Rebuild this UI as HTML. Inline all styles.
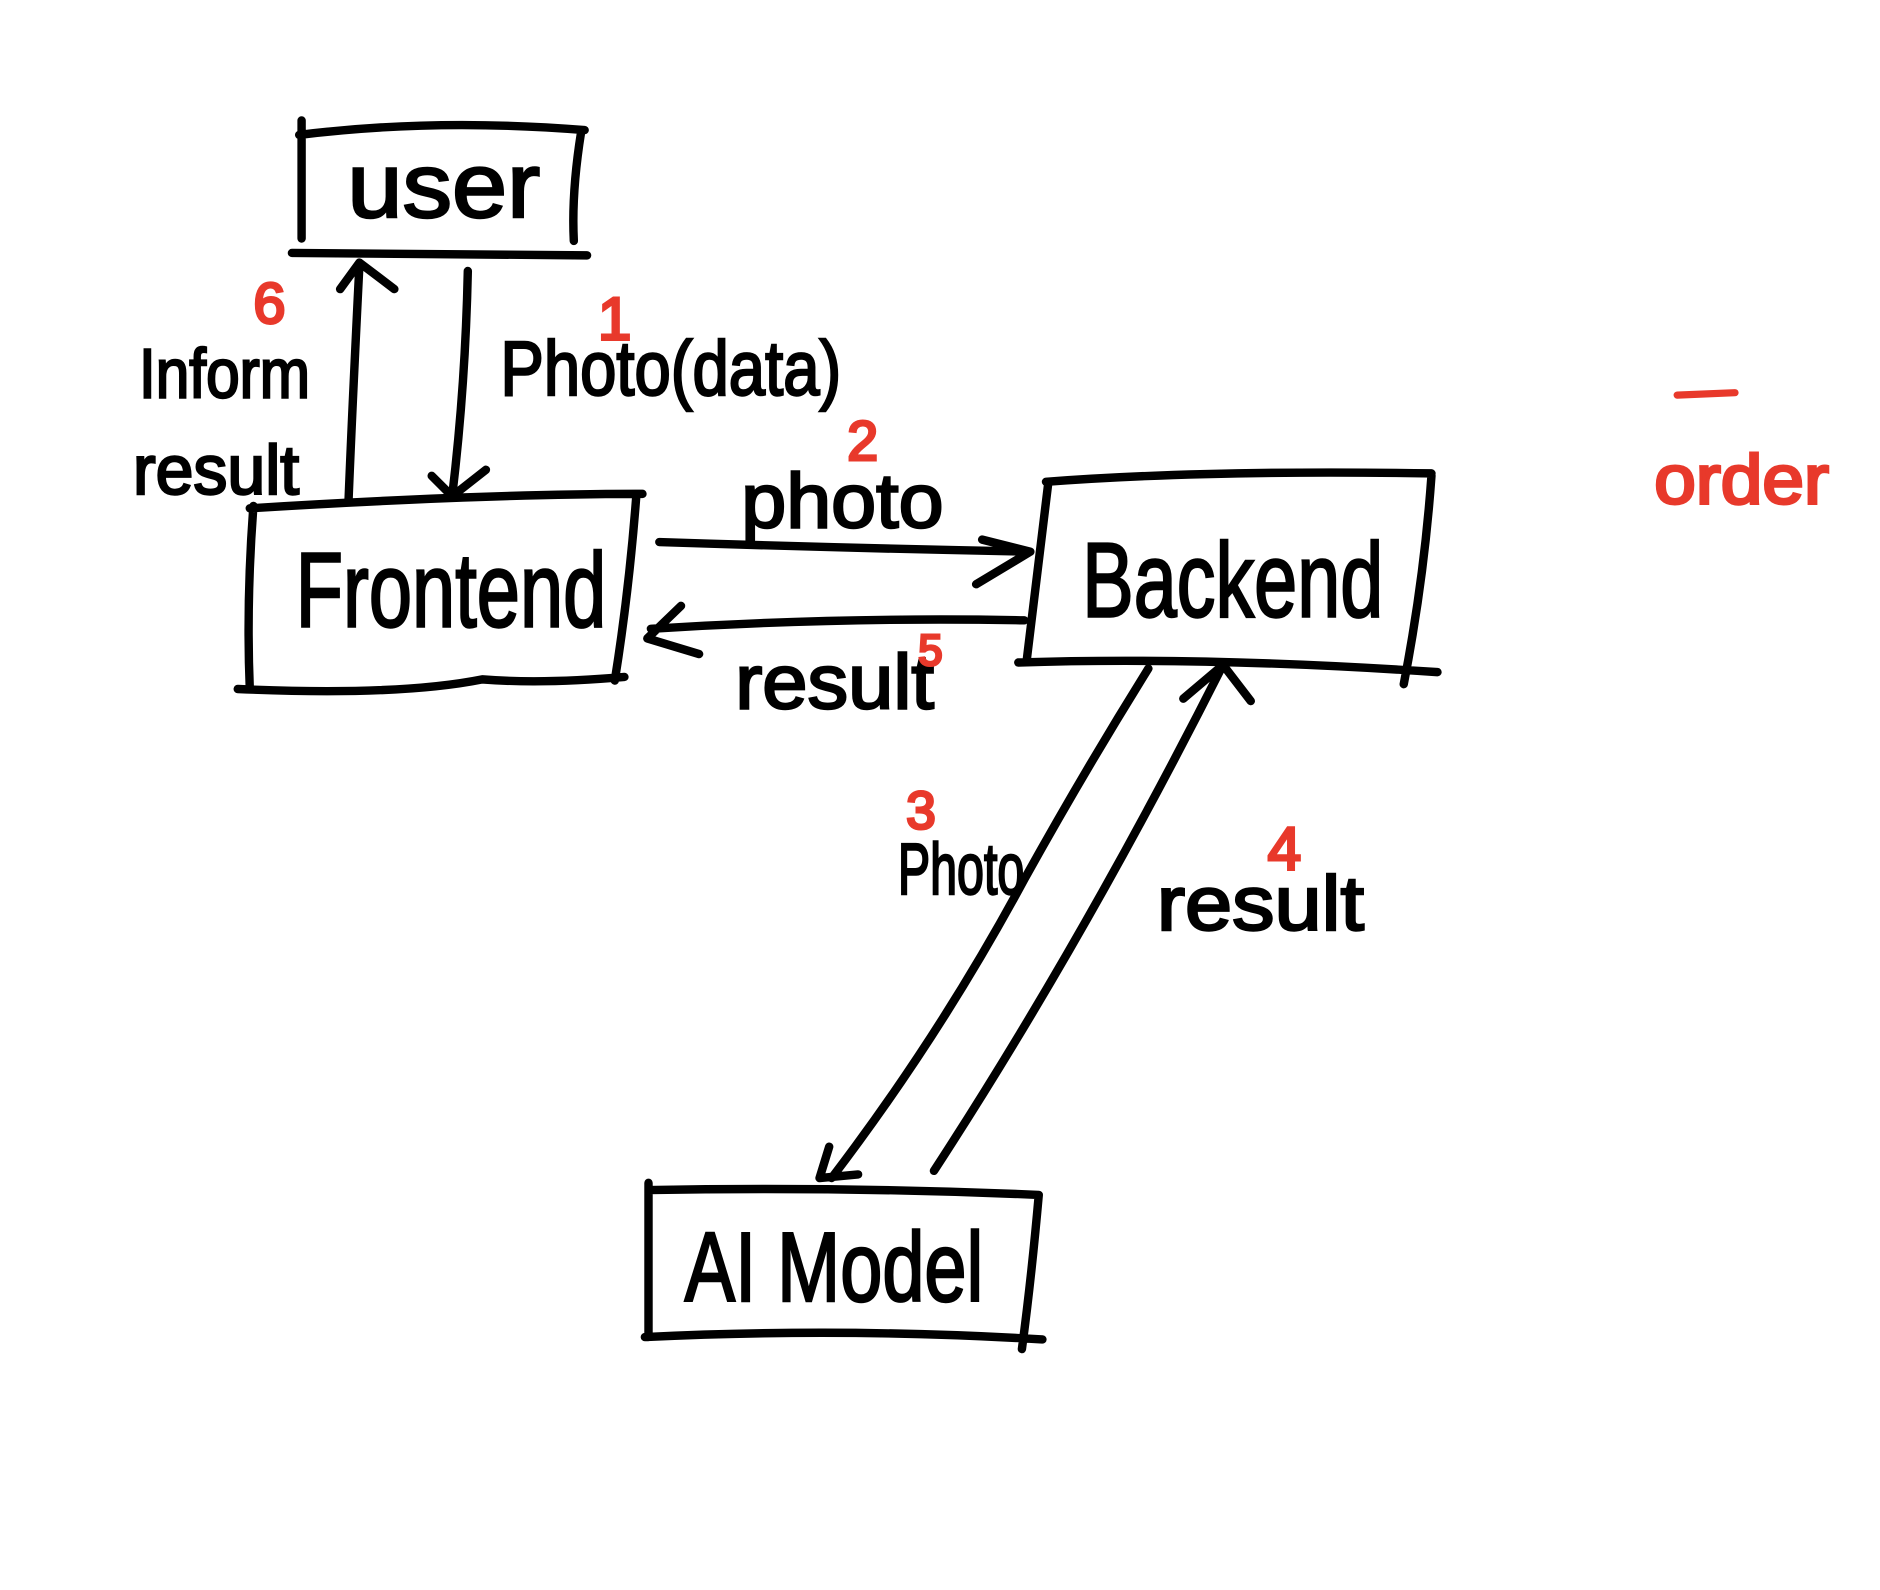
<!DOCTYPE html>
<html><head><meta charset="utf-8"><style>
html,body{margin:0;padding:0;background:#fff}
svg{display:block}
text{font-family:"Liberation Sans Narrow","Liberation Sans",sans-serif;}
.k{fill:#000;stroke:#000;stroke-width:2}
.r{fill:#e8392b;stroke:#e8392b;stroke-width:2.5}
</style></head><body>
<svg width="1880" height="1590" viewBox="0 0 1560 1320" xmlns="http://www.w3.org/2000/svg">
<rect width="1560" height="1320" fill="#fff"/>
<g fill="none" stroke="#000" stroke-width="7" stroke-linecap="round" stroke-linejoin="round">
<path d="M248 112 Q360 98 485 108 M250 100 L250 198 M482 110 Q474 160 476 200 M242 210 L487 212"/>
<path d="M207 422 Q400 410 533 410 M210 420 Q204 500 207 572 M528 410 Q522 490 510 565 M197 572 Q330 578 400 564 Q450 568 518 562"/>
<path d="M868 400 Q1000 390 1188 393 M870 400 Q860 480 852 548 M1188 395 Q1182 480 1165 568 M845 550 Q1000 545 1193 558"/>
<path d="M538 982 L538 1110 M538 988 Q700 985 862 992 M862 992 Q856 1060 848 1120 M535 1110 Q700 1102 865 1112"/>
<path d="M289 415 Q292 340 298 220 M282 240 L298 218 L327 240"/>
<path d="M388 225 Q386 320 375 412 M358 395 L375 412 L403 390"/>
<path d="M547 450 Q700 455 855 458 M815 448 L855 458 L810 485"/>
<path d="M850 515 Q700 512 540 522 M565 503 L537 530 L580 543"/>
<path d="M953 555 Q900 640 850 730 Q780 860 690 978 M688 952 L680 978 L712 975"/>
<path d="M775 972 Q900 780 1015 552 M982 580 L1015 552 L1038 582"/>
</g>
<text class="k" x="288" y="180" font-size="76" textLength="160" lengthAdjust="spacingAndGlyphs">user</text>
<text class="k" x="245" y="520" font-size="88" textLength="258" lengthAdjust="spacingAndGlyphs">Frontend</text>
<text class="k" x="898" y="512" font-size="88" textLength="250" lengthAdjust="spacingAndGlyphs">Backend</text>
<text class="k" x="568" y="1080" font-size="82" textLength="248" lengthAdjust="spacingAndGlyphs">AI Model</text>
<text class="k" x="115" y="330" font-size="58" textLength="142" lengthAdjust="spacingAndGlyphs">Inform</text>
<text class="k" x="110" y="410" font-size="58" textLength="138" lengthAdjust="spacingAndGlyphs">result</text>
<text class="k" x="415" y="328" font-size="64" textLength="283" lengthAdjust="spacingAndGlyphs">Photo(data)</text>
<text class="k" x="615" y="438" font-size="64" textLength="168" lengthAdjust="spacingAndGlyphs">photo</text>
<text class="k" x="610" y="588" font-size="64" textLength="165" lengthAdjust="spacingAndGlyphs">result</text>
<text class="k" x="745" y="742" font-size="60" textLength="105" lengthAdjust="spacingAndGlyphs">Photo</text>
<text class="k" x="960" y="772" font-size="64" textLength="172" lengthAdjust="spacingAndGlyphs">result</text>
<text class="r" x="210" y="268" font-size="48">6</text>
<text class="r" x="496" y="282" font-size="50">1</text>
<text class="r" x="703" y="382" font-size="46">2</text>
<text class="r" x="762" y="552" font-size="36">5</text>
<text class="r" x="752" y="688" font-size="44">3</text>
<text class="r" x="1052" y="722" font-size="50">4</text>
<path d="M1392 328 L1440 326" stroke="#e8392b" stroke-width="6" stroke-linecap="round"/>
<text class="r" x="1373" y="418" font-size="58" textLength="145" lengthAdjust="spacingAndGlyphs">order</text>
</svg>
</body></html>
